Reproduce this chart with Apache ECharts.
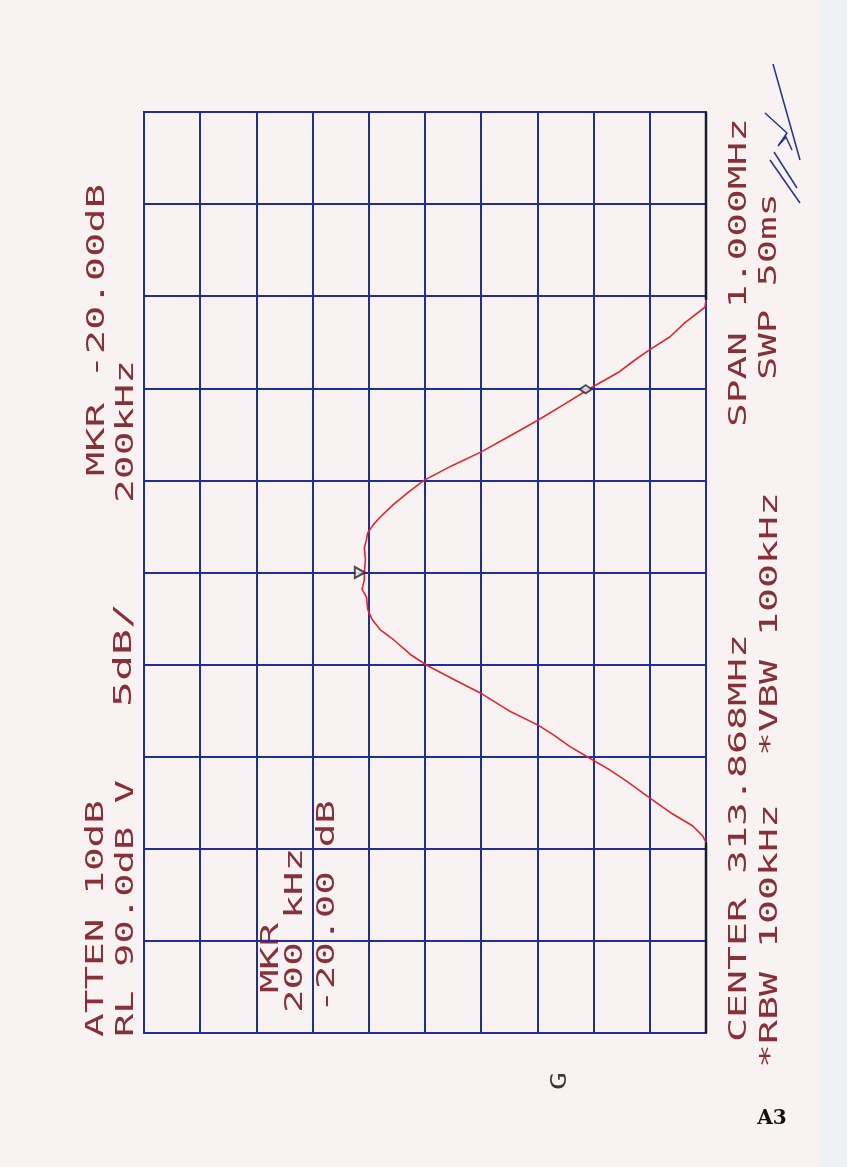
<!DOCTYPE html>
<html>
<head>
<meta charset="utf-8">
<script src="https://cdn.jsdelivr.net/npm/echarts@6/dist/echarts.min.js"></script>
<style>
html, body { margin: 0; padding: 0; background: #f8f2f2; }
#main { width: 847px; height: 1167px; }
</style>
</head>
<body>
<div id="main"></div>
<script>
// axis ranges: level in dBuV (RL 90, 5dB/div), frequency offset from 313.868 MHz in kHz (span 1 MHz)
var levelMin = 40, levelMax = 90, levelStep = 5;
var freqMin = -500, freqMax = 500, freqStep = 100;

// trace
var freqOffset = [-293, -286, -275, -262, -243, -227, -214, -202, -189, -176,
    -166, -151, -132, -117, -101, -89, -73, -62, -51, -40,
    -27, -18, -8, 0, 14, 27, 36, 43, 52, 60,
    74, 87, 100, 116, 131, 148, 165, 182, 200, 218,
    231, 242, 256, 271, 288, 296];
var level = [40.0, 40.3, 41.2, 43.0, 45.2, 47.0, 48.6, 50.3, 52.1, 53.6,
    54.9, 57.4, 59.9, 62.3, 64.8, 66.3, 67.8, 69.0, 69.7, 70.1,
    70.2, 70.6, 70.4, 70.4, 70.3, 70.4, 70.2, 70.1, 69.6, 69.0,
    67.8, 66.5, 65.1, 62.6, 60.0, 57.5, 55.0, 52.7, 50.3, 47.7,
    46.3, 45.0, 43.2, 41.9, 40.1, 40.0];

// trace below the screen bottom, drawn on the bottom line
var clipLow = [-500, -293];
var clipHigh = [296, 500];

// markers: [level, freq offset]
var peakMarker = [70.8, 0];
var deltaMarker = [50.7, 199];

var gridColor = '#1f2f93';
var textColor = '#86303a';
var FONT = 'DejaVu Sans Mono';

var chart = echarts.init(document.getElementById('main'));

var trace = freqOffset.map(function (f, i) { return [level[i], f]; });
function floorLine(r) { return r.map(function (f) { return [levelMin, f]; }); }

// plotter text, turned to read bottom to top, stretched to the length on paper
var ctx = document.createElement('canvas').getContext('2d');
function vlabel(str, cx, yBottom, yTop, size, color) {
    ctx.font = size + 'px "' + FONT + '"';
    var w = ctx.measureText(str).width;
    return {
        type: 'text',
        x: cx,
        y: yBottom,
        rotation: Math.PI / 2,
        scaleX: (yBottom - yTop) / w,
        silent: true,
        style: {
            text: str,
            fontSize: size,
            fontFamily: FONT,
            fill: color || textColor,
            align: 'left',
            verticalAlign: 'middle',
            textAlign: 'left',
            textVerticalAlign: 'middle'
        }
    };
}

var labels = [
    vlabel('ATTEN 10dB', 97, 1037, 800, 24),
    vlabel('RL 90.0dB V', 127, 1037, 780, 24),
    vlabel('5dB/', 125, 707, 603, 24),
    vlabel('MKR -20.00dB', 98, 476, 184, 24),
    vlabel('200kHz', 127, 503, 360, 24),
    vlabel('MKR', 272, 993, 923, 24),
    vlabel('200 kHz', 296, 1013, 848, 24),
    vlabel('-20.00 dB', 328, 1013, 800, 24),
    vlabel('CENTER 313.868MHz', 740, 1042, 634, 24),
    vlabel('*RBW 100kHz  *VBW 100kHz', 771, 1068, 492, 24),
    vlabel('SPAN 1.000MHz', 740, 427, 118, 24),
    vlabel('SWP 50ms', 770, 380, 193, 24),
    vlabel('G', 560, 1090, 1072, 22, '#3a3a3a')
];

var option = {
    backgroundColor: '#f8f2f2',
    animation: false,
    grid: {
        left: 144, top: 112, right: 141, bottom: 134,
        show: true,
        borderColor: gridColor,
        borderWidth: 2
    },
    xAxis: {
        type: 'value',
        inverse: true,
        min: levelMin, max: levelMax, interval: levelStep,
        axisLine: { show: false },
        axisTick: { show: false },
        axisLabel: { show: false },
        splitLine: { show: true, lineStyle: { color: gridColor, width: 2 } }
    },
    yAxis: {
        type: 'value',
        min: freqMin, max: freqMax, interval: freqStep,
        axisLine: { show: false },
        axisTick: { show: false },
        axisLabel: { show: false },
        splitLine: { show: true, lineStyle: { color: gridColor, width: 2 } }
    },
    series: [{
        name: 'trace',
        type: 'line',
        data: trace,
        showSymbol: false,
        lineStyle: { color: '#e3262c', width: 1.6 },
        z: 3
    }, {
        name: 'clip low',
        type: 'line',
        data: floorLine(clipLow),
        showSymbol: false,
        lineStyle: { color: '#1a1a2a', width: 2.5 },
        z: 2
    }, {
        name: 'clip high',
        type: 'line',
        data: floorLine(clipHigh),
        showSymbol: false,
        lineStyle: { color: '#1a1a2a', width: 2.5 },
        z: 2
    }, {
        name: 'marker',
        type: 'scatter',
        data: [peakMarker],
        symbol: 'triangle',
        symbolSize: [11, 10],
        symbolRotate: -90,
        itemStyle: { color: '#f8f2f2', borderColor: '#222', borderWidth: 2 },
        z: 4
    }, {
        name: 'delta',
        type: 'scatter',
        data: [deltaMarker],
        symbol: 'diamond',
        symbolSize: [12, 8],
        itemStyle: { color: '#f8f2f2', borderColor: '#222', borderWidth: 2 },
        z: 4
    }],
    graphic: [{
        type: 'rect',
        silent: true,
        z: -10,
        shape: { x: 820, y: 0, width: 27, height: 1167 },
        style: { fill: '#eef2f4' }
    }, {
        // handwritten initials
        type: 'group',
        silent: true,
        children: [
            { type: 'polyline', shape: { points: [[773, 64], [800, 160]] }, style: { stroke: '#24338c', lineWidth: 1.5, fill: null } },
            { type: 'polyline', shape: { points: [[765, 113], [787, 133], [778, 146], [786, 137], [792, 150]] }, style: { stroke: '#24338c', lineWidth: 1.5, fill: null } },
            { type: 'polyline', shape: { points: [[770, 160], [800, 203]] }, style: { stroke: '#24338c', lineWidth: 1.5, fill: null } },
            { type: 'polyline', shape: { points: [[774, 152], [797, 188]] }, style: { stroke: '#24338c', lineWidth: 1.5, fill: null } }
        ]
    }, {
        type: 'text',
        x: 772, y: 1119,
        silent: true,
        style: {
            text: 'A3',
            fontSize: 20,
            fontWeight: 'bold',
            fontFamily: 'DejaVu Serif',
            fill: '#111',
            align: 'center',
            verticalAlign: 'middle',
            textAlign: 'center',
            textVerticalAlign: 'middle'
        }
    }].concat(labels)
};

chart.setOption(option);
</script>
</body>
</html>
